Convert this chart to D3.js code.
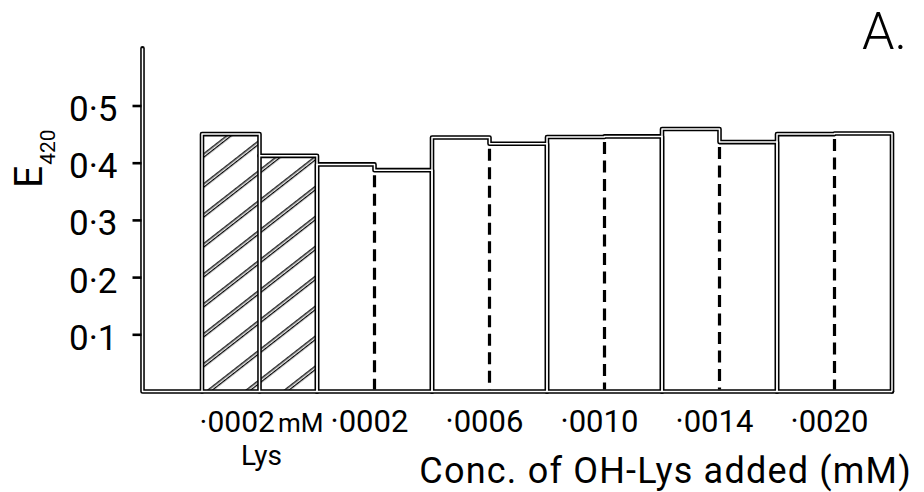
<!DOCTYPE html>
<html>
<head>
<meta charset="utf-8">
<script src="https://cdn.jsdelivr.net/npm/d3@7"></script>
<style>
  html, body { margin: 0; padding: 0; background: #fff; }
  svg { display: block; }
  text { font-family: Roboto, "DejaVu Sans", sans-serif; fill: #000; }
</style>
</head>
<body>
<svg id="chart" width="924" height="492"></svg>
<script>
// Extinction at 420 nm for each pair of incubations
const groupLabels = ["·0002", "·0002", "·0006", "·0010", "·0014", "·0020"];
const firstUnit = "mM";
const firstSubLabel = "Lys";
const barA = [0.450, 0.397, 0.444, 0.445, 0.459, 0.450];
const barB = [0.412, 0.387, 0.433, 0.446, 0.436, 0.451];
const hatchedGroups = [true, false, false, false, false, false];
const yTicks = [0.1, 0.2, 0.3, 0.4, 0.5];
const yMax = 0.6;

const svg = d3.select("#chart");

const x = d3.scaleBand().domain(d3.range(groupLabels.length)).range([202, 892]).padding(0);
const y = d3.scaleLinear().domain([0, yMax]).range([391.5, 48.3]);
const base = y(0);
const axisX = 142.5;

// hatch pattern: double-stroked diagonal lines
const defs = svg.append("defs");
const pat = defs.append("pattern")
  .attr("id", "hatch")
  .attr("patternUnits", "userSpaceOnUse")
  .attr("width", 12).attr("height", 23.6)
  .attr("patternTransform", "rotate(-38)");
pat.append("rect").attr("width", 12).attr("height", 23.6).attr("fill", "#fff");
pat.append("line").attr("x1", -2).attr("x2", 14).attr("y1", 12).attr("y2", 12)
  .attr("stroke", "#000").attr("stroke-width", 4);
pat.append("line").attr("x1", -2).attr("x2", 14).attr("y1", 12).attr("y2", 12)
  .attr("stroke", "#fff").attr("stroke-width", 1.4);

const groups = groupLabels.map((label, i) => {
  const x0 = x(i), x1 = x(i) + x.bandwidth(), xm = (x0 + x1) / 2;
  return { i, label, a: barA[i], b: barB[i], hatched: hatchedGroups[i], x0, xm, x1 };
});

// bar fills
const fills = svg.append("g");
groups.forEach(g => {
  const fill = g.hatched ? "url(#hatch)" : "#fff";
  fills.append("rect").attr("x", g.x0).attr("y", y(g.a))
    .attr("width", g.xm - g.x0).attr("height", base - y(g.a)).attr("fill", fill);
  fills.append("rect").attr("x", g.xm).attr("y", y(g.b))
    .attr("width", g.x1 - g.xm).attr("height", base - y(g.b)).attr("fill", fill);
});

// outline paths (drawn as hollow double strokes)
const outlinePaths = groups.map(g =>
  `M${g.x0},${base}V${y(g.a)}H${g.xm}V${y(g.b)}H${g.x1}V${base}`);
groups.filter(g => g.hatched).forEach(g => {
  outlinePaths.push(`M${g.xm},${Math.max(y(g.a), y(g.b))}V${base}`);
});
outlinePaths.push(`M${axisX},${y(yMax)}V${base}H${x.range()[1]}`);

const outer = svg.append("g");
const inner = svg.append("g");
outlinePaths.forEach(d => {
  outer.append("path").attr("d", d).attr("fill", "none")
    .attr("stroke", "#000").attr("stroke-width", 4.6)
    .attr("stroke-linejoin", "round").attr("stroke-linecap", "round");
});
outlinePaths.forEach(d => {
  inner.append("path").attr("d", d).attr("fill", "none")
    .attr("stroke", "#fff").attr("stroke-width", 1.5)
    .attr("stroke-linejoin", "round").attr("stroke-linecap", "butt");
});

// dashed dividers inside the open pairs
svg.append("g").selectAll("line")
  .data(groups.filter(g => !g.hatched))
  .join("line")
  .attr("x1", g => g.xm).attr("x2", g => g.xm)
  .attr("y1", g => Math.max(y(g.a), y(g.b)) + 5)
  .attr("y2", base - 2)
  .attr("stroke", "#000").attr("stroke-width", 3.2)
  .attr("stroke-dasharray", "12,6.5");

// y axis ticks and labels
const yAxis = d3.axisLeft(y)
  .tickValues(yTicks)
  .tickSize(9)
  .tickPadding(15)
  .tickFormat(d => d3.format(".1f")(d).replace(".", "·"));
const ya = svg.append("g").attr("transform", `translate(${axisX - 1},0)`).call(yAxis);
ya.select(".domain").remove();
ya.selectAll(".tick line").attr("stroke", "#000").attr("stroke-width", 2.6);
ya.selectAll(".tick text")
  .attr("dy", 15)
  .attr("font-size", 35)
  .attr("font-family", "Roboto, 'DejaVu Sans', sans-serif")
  .attr("fill", "#000");

// y axis title: E with subscript 420
const yt = svg.append("text")
  .attr("transform", "translate(42,188) rotate(-90)")
  .attr("font-size", 39);
yt.append("tspan").text("E");
yt.append("tspan").attr("font-size", 21).attr("dy", 13).attr("dx", 1).text("420");

// x category labels
const xl = svg.append("g");
groups.forEach(g => {
  const cx = (g.x0 + g.x1) / 2;
  if (g.i === 0) {
    const t = xl.append("text").attr("x", cx + 2).attr("y", 432)
      .attr("text-anchor", "middle").attr("font-size", 30);
    t.append("tspan").text(g.label);
    t.append("tspan").attr("font-size", 26).attr("dx", 3).text(firstUnit);
    xl.append("text").attr("x", cx + 2).attr("y", 465)
      .attr("text-anchor", "middle").attr("font-size", 28).text(firstSubLabel);
  } else {
    xl.append("text").attr("x", cx - 5).attr("y", 432)
      .attr("text-anchor", "middle").attr("font-size", 31).text(g.label);
  }
});

// x axis title
svg.append("text").attr("x", 912).attr("y", 483)
  .attr("text-anchor", "end").attr("font-size", 36)
  .attr("letter-spacing", 1.2)
  .text("Conc. of OH-Lys added (mM)");

// panel letter
svg.append("text").attr("x", 862).attr("y", 49)
  .attr("font-size", 52).attr("font-weight", 300).text("A.");
</script>
</body>
</html>
